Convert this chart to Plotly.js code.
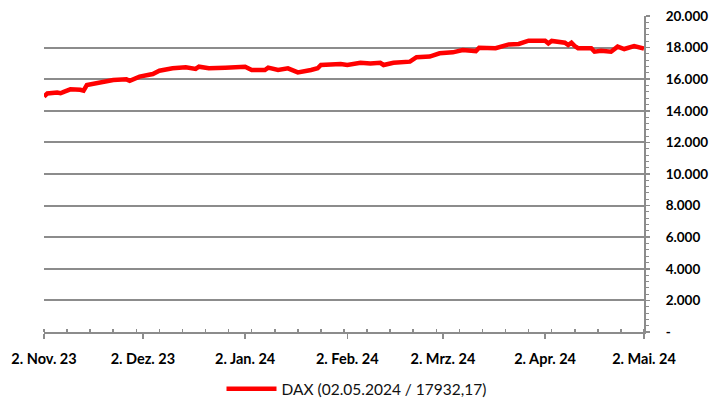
<!DOCTYPE html>
<html>
<head>
<meta charset="utf-8">
<script src="https://cdn.plot.ly/plotly-3.0.1.min.js"></script>
<style>html,body{margin:0;padding:0;background:#fff;}#chart{width:713px;height:400px;}</style>
</head>
<body>
<div id="chart"></div>
<script>
const dates = [
"2023-11-02","2023-11-03","2023-11-06","2023-11-07","2023-11-08","2023-11-10","2023-11-13","2023-11-14","2023-11-15","2023-11-20",
"2023-11-23","2023-11-27","2023-11-28","2023-12-01","2023-12-05","2023-12-07","2023-12-11","2023-12-15","2023-12-18","2023-12-19",
"2023-12-22","2023-12-27","2024-01-02","2024-01-04","2024-01-08","2024-01-09","2024-01-12","2024-01-15","2024-01-18","2024-01-22",
"2024-01-24","2024-01-25","2024-01-31","2024-02-02","2024-02-06","2024-02-09","2024-02-12","2024-02-13","2024-02-16","2024-02-21",
"2024-02-23","2024-02-27","2024-03-01","2024-03-05","2024-03-08","2024-03-12","2024-03-13","2024-03-18","2024-03-20","2024-03-22",
"2024-03-25","2024-03-28","2024-04-02","2024-04-03","2024-04-04","2024-04-08","2024-04-09","2024-04-10","2024-04-11","2024-04-12",
"2024-04-16","2024-04-17","2024-04-19","2024-04-22","2024-04-24","2024-04-26","2024-04-29","2024-04-30","2024-05-02"
];
const daxValues = [
14900,15100,15150,15110,15200,15360,15330,15270,15630,15840,
15950,15990,15900,16160,16330,16540,16690,16750,16650,16790,
16690,16730,16790,16580,16580,16730,16580,16690,16430,16580,
16690,16900,16960,16900,17040,17000,17040,16900,17040,17110,
17390,17430,17640,17700,17850,17780,17990,17960,18100,18200,
18230,18440,18440,18270,18420,18310,18160,18310,18100,17960,
17960,17740,17800,17740,18060,17910,18100,18060,17932
];
const seriesName = "DAX (02.05.2024 / 17932,17)";
const xTickVals = ["2023-11-02","2023-12-02","2024-01-02","2024-02-02","2024-03-02","2024-04-02","2024-05-02"];
const xTickText = ["2. Nov. 23","2. Dez. 23","2. Jan. 24","2. Feb. 24","2. Mrz. 24","2. Apr. 24","2. Mai. 24"];
const yTickVals = [0,2000,4000,6000,8000,10000,12000,14000,16000,18000,20000];
const yTickText = ["-","2.000","4.000","6.000","8.000","10.000","12.000","14.000","16.000","18.000","20.000"];

const grey = "#8c8c8c";
const trace = {
  x: dates, y: daxValues, type: "scatter", mode: "lines", name: seriesName,
  line: {color: "#ff0000", width: 4.5}
};
const layout = {
  width: 713, height: 400,
  margin: {l: 44, r: 69, t: 16, b: 68},
  paper_bgcolor: "#ffffff", plot_bgcolor: "#ffffff",
  font: {family: "Lato, 'Open Sans', sans-serif", color: "#000"},
  showlegend: true,
  legend: {orientation: "h", xref: "container", yref: "container", x: 0.5, xanchor: "center", y: 0.027, yanchor: "middle",
    font: {size: 15.5, family: "Lato, sans-serif", color: "#111"}, itemwidth: 50},
  xaxis: {
    type: "date", range: ["2023-11-02", "2024-05-02"],
    tickmode: "array", tickvals: xTickVals, ticktext: xTickText,
    ticks: "outside", ticklen: 5, tickwidth: 1.5, tickcolor: grey,
    showline: true, linecolor: grey, linewidth: 2,
    showgrid: false, zeroline: false,
    tickfont: {size: 14.5, family: "Lato, sans-serif", weight: "bold", color: "#000"},
    ticklabelstandoff: 8,
    minor: {tick0: "2023-11-02", dtick: 7*86400000, ticks: "inside", ticklen: 3, tickcolor: grey, tickwidth: 1.5, showgrid: false}
  },
  yaxis: {
    side: "right", range: [0, 20000],
    tickmode: "array", tickvals: yTickVals, ticktext: yTickText,
    ticks: "outside", ticklen: 4, tickwidth: 1.5, tickcolor: grey,
    showline: true, linecolor: grey, linewidth: 2,
    showgrid: true, gridcolor: grey, gridwidth: 2,
    zeroline: false,
    tickfont: {size: 13.5, family: "Lato, sans-serif", weight: "bold", color: "#000"},
    ticklabelstandoff: 13,
    minor: {tick0: 0, dtick: 400, ticks: "outside", ticklen: 3, tickcolor: grey, tickwidth: 1, showgrid: false}
  }
};
Plotly.newPlot("chart", [trace], layout, {staticPlot: true, displayModeBar: false});
</script>
</body>
</html>
